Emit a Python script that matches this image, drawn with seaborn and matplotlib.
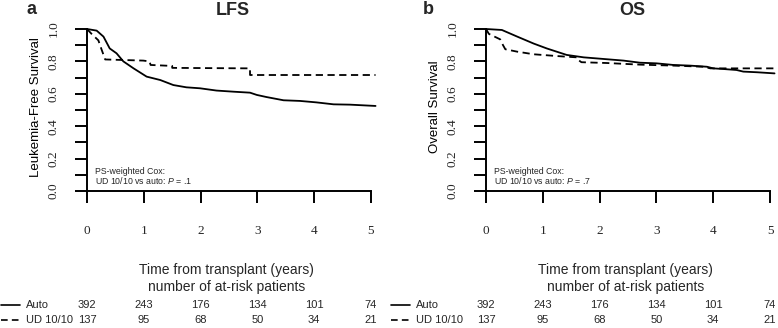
import numpy as np
import pandas as pd
import matplotlib.pyplot as plt
import seaborn as sns
from matplotlib.transforms import blended_transform_factory
from matplotlib.lines import Line2D

lfs_time_auto = [0, 0.17, 0.29, 0.4, 0.52, 0.64, 0.82, 1.05, 1.29, 1.52, 1.75, 1.99, 2.28,
                 2.58, 2.87, 2.99, 3.16, 3.46, 3.75, 4.04, 4.34, 4.63, 5.08]
lfs_surv_auto = [1.0, 0.99, 0.953, 0.88, 0.85, 0.80, 0.757, 0.706, 0.685, 0.654, 0.64, 0.634, 0.62,
                 0.613, 0.607, 0.593, 0.58, 0.56, 0.556, 0.547, 0.535, 0.533, 0.525]
lfs_time_ud = [0, 0.08, 0.2, 0.26, 0.32, 0.6, 0.99, 1.1, 1.12, 1.5, 1.5, 2.87, 2.87, 5.08]
lfs_surv_ud = [1.0, 0.97, 0.93, 0.87, 0.812, 0.809, 0.805, 0.80, 0.778, 0.772, 0.76, 0.757, 0.716, 0.716]

os_time_auto = [0, 0.28, 0.55, 0.84, 1.07, 1.42, 1.72, 2.07, 2.42, 2.71, 3.0, 3.3, 3.59, 3.89,
                4.0, 4.18, 4.41, 4.53, 4.77, 5.08]
os_surv_auto = [1.0, 0.994, 0.953, 0.91, 0.88, 0.84, 0.825, 0.815, 0.805, 0.792, 0.788, 0.778,
                0.774, 0.767, 0.757, 0.753, 0.747, 0.737, 0.733, 0.726]
os_time_ud = [0, 0.05, 0.25, 0.3, 0.34, 0.55, 0.84, 1.25, 1.6, 1.62, 1.68, 2.13, 2.71, 3.3,
              3.83, 3.95, 5.08]
os_surv_ud = [1.0, 0.97, 0.936, 0.9, 0.875, 0.86, 0.844, 0.833, 0.825, 0.81, 0.795, 0.79, 0.78,
              0.774, 0.767, 0.757, 0.757]

risk_years = [0, 1, 2, 3, 4, 5]
risk_auto = [392, 243, 176, 134, 101, 74]
risk_ud = [137, 95, 68, 50, 34, 21]

groups = ['Auto', 'UD 10/10']
panels = ['LFS', 'OS']
panel_letters = ['a', 'b']
ylabels = ['Leukemia-Free Survival', 'Overall Survival']
pvalues = ['.1', '.7']


def make_df(t_auto, s_auto, t_ud, s_ud):
    a = pd.DataFrame({'time': t_auto, 'surv': s_auto, 'group': 'Auto'})
    b = pd.DataFrame({'time': t_ud, 'surv': s_ud, 'group': 'UD 10/10'})
    return pd.concat([a, b], ignore_index=True)


data = [make_df(lfs_time_auto, lfs_surv_auto, lfs_time_ud, lfs_surv_ud),
        make_df(os_time_auto, os_surv_auto, os_time_ud, os_surv_ud)]

sns.set_theme(style='ticks')
plt.rcParams['font.family'] = ['Liberation Sans', 'DejaVu Sans']
plt.rcParams['mathtext.fontset'] = 'custom'
plt.rcParams['mathtext.it'] = 'Liberation Sans:italic'
plt.rcParams['mathtext.rm'] = 'Liberation Sans'

W, H = 778, 328
fig = plt.figure(figsize=(W / 100, H / 100), dpi=100)

px_year = 56.8
px_unit = 162
xmax, ymax = 5.15, 1.02
ax_left_px = [87, 486]
ax_bottom_px = 191
panel_x0 = [0, 390]

for i in range(2):
    ax = fig.add_axes([ax_left_px[i] / W, 1 - ax_bottom_px / H,
                       xmax * px_year / W, ymax * px_unit / H])
    sns.lineplot(data=data[i], x='time', y='surv', style='group',
                 dashes={'Auto': '', 'UD 10/10': (4, 2.5)}, color='black',
                 linewidth=1.3, estimator=None, sort=False, legend=False, ax=ax)
    ax.set_xlim(0, xmax)
    ax.set_ylim(0, ymax)
    sns.despine(ax=ax)
    for s in ['left', 'bottom']:
        ax.spines[s].set_linewidth(1.4)
        ax.spines[s].set_color('black')
    ax.spines['left'].set_bounds(0, 1)
    ax.spines['bottom'].set_bounds(0, 5)

    ax.set_xticks(risk_years)
    ax.set_xticklabels([str(y) for y in risk_years], fontfamily='Liberation Serif', fontsize=9.5)
    yt = np.round(np.arange(0, 1.01, 0.1), 1)
    ax.set_yticks(yt)
    ax.set_yticklabels([f'{v:.1f}' if k % 2 == 0 else '' for k, v in enumerate(yt)],
                       fontfamily='Liberation Serif', fontsize=9.5, rotation=90, va='center')
    ax.tick_params(axis='both', which='major', direction='out', length=8.5, width=1.4,
                   color='black')
    ax.tick_params(axis='x', pad=16)
    ax.tick_params(axis='y', pad=11)

    ax.set_xlabel('')
    ax.set_ylabel(ylabels[i], fontsize=9.5, color='black')
    ax.yaxis.set_label_coords(-45 / (xmax * px_year), 1 / ymax / 2 + 0.02)

    ax.set_title(panels[i], fontsize=13, fontweight='bold', pad=8)
    fig.text((panel_x0[i] + 32 + (6 if i else 0)) / W, 1 - 9 / H, panel_letters[i],
             fontsize=13, fontweight='bold', ha='center', va='center')

    ax.text(0.14, 0.123, 'PS-weighted Cox:', fontsize=6.3, va='center')
    ax.text(0.14, 0.062, 'UD 10/10 vs auto: $P$ = ' + pvalues[i], fontsize=6.3, va='center')

    tr = blended_transform_factory(ax.transData, fig.transFigure)
    ax.text(2.45, 1 - 270 / H, 'Time from transplant (years)', transform=tr,
            ha='center', va='center', fontsize=10)
    ax.text(2.45, 1 - 287 / H, 'number of at-risk patients', transform=tr,
            ha='center', va='center', fontsize=10)
    for row, (counts, y_px) in enumerate([(risk_auto, 305), (risk_ud, 320)]):
        for yr, n in zip(risk_years, counts):
            ax.text(yr, 1 - y_px / H, str(n), transform=tr, ha='center', va='center', fontsize=8)
        x0 = panel_x0[i]
        fig.add_artist(Line2D([(x0 + 1) / W, (x0 + 20) / W], [1 - y_px / H] * 2,
                              color='black', linewidth=1.2,
                              linestyle='-' if row == 0 else (0, (4, 2.5))))
        fig.text((x0 + 26) / W, 1 - y_px / H, groups[row], fontsize=8, va='center')

fig.savefig('out.png', dpi=100)
